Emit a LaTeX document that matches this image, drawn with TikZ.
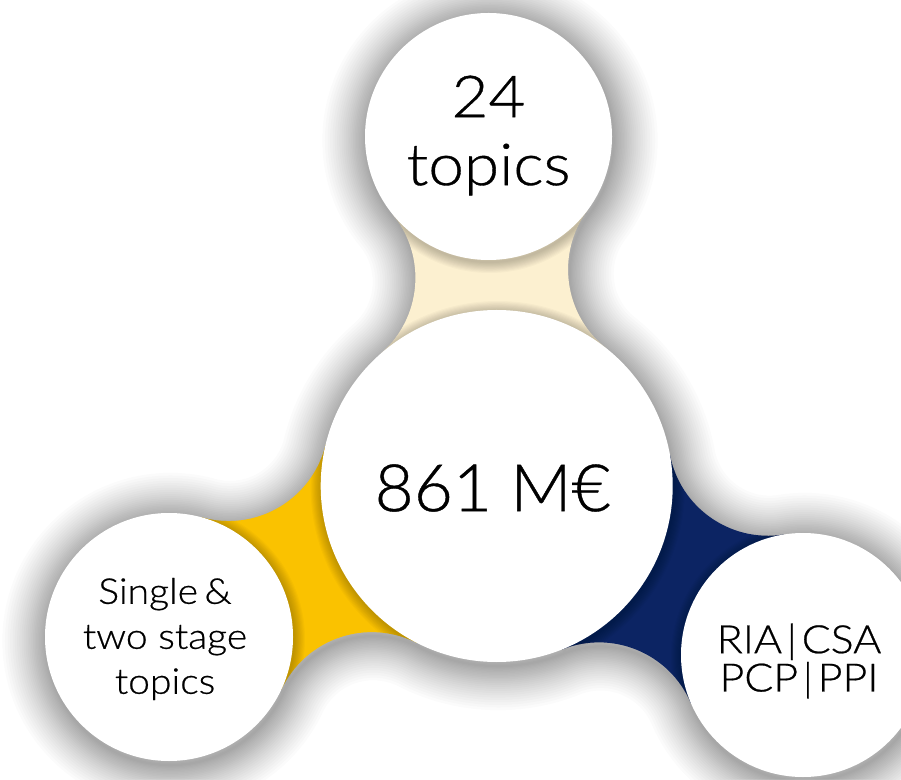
\documentclass[tikz,border=0pt]{standalone}
\usepackage{fontspec}
\setmainfont{Lato}[UprightFont=* Light, FakeStretch=1.1, FakeBold=0.6]
\newfontfamily\centerfont{Lato}[UprightFont=* Light, FakeStretch=1.03, FakeBold=0.6]
\definecolor{cream}{RGB}{252,240,208}
\definecolor{eyellow}{RGB}{250,194,0}
\definecolor{enavy}{RGB}{12,36,99}
% fillet connector between circle a and circle b
% #1 macro name, #2 ax, #3 ay, #4 ra, #5 bx, #6 by, #7 rb, #8 fillet radius
\newcommand\mkfillet[8]{%
 \pgfmathsetmacro\flDx{#5-(#2)}%
 \pgfmathsetmacro\flDy{#6-(#3)}%
 \pgfmathsetmacro\flD{sqrt(\flDx*\flDx+\flDy*\flDy)}%
 \pgfmathsetmacro\flUx{\flDx/\flD}%
 \pgfmathsetmacro\flUy{\flDy/\flD}%
 \pgfmathsetmacro\flT{(\flD*\flD-(#7+#8)*(#7+#8)+(#4+#8)*(#4+#8))/(2*\flD)}%
 \pgfmathsetmacro\flH{sqrt((#4+#8)*(#4+#8)-\flT*\flT)}%
 \pgfmathsetmacro\flPx{#2+\flT*\flUx-\flH*\flUy}%
 \pgfmathsetmacro\flPy{#3+\flT*\flUy+\flH*\flUx}%
 \pgfmathsetmacro\flQx{#2+\flT*\flUx+\flH*\flUy}%
 \pgfmathsetmacro\flQy{#3+\flT*\flUy-\flH*\flUx}%
 \pgfmathsetmacro\flaPA{atan2(#3-\flPy,#2-\flPx)}%
 \pgfmathsetmacro\flaPB{atan2(#6-\flPy,#5-\flPx)}%
 \pgfmathsetmacro\flaQA{atan2(#3-\flQy,#2-\flQx)}%
 \pgfmathsetmacro\flaQB{atan2(#6-\flQy,#5-\flQx)}%
 \pgfmathsetmacro\fldP{mod(\flaPB-\flaPA+540,360)-180}%
 \pgfmathsetmacro\fldQ{mod(\flaQA-\flaQB+540,360)-180}%
 \pgfmathsetmacro\flSx{\flPx+#8*cos(\flaPA)}%
 \pgfmathsetmacro\flSy{\flPy+#8*sin(\flaPA)}%
 \pgfmathsetmacro\flMx{\flQx+#8*cos(\flaQB)}%
 \pgfmathsetmacro\flMy{\flQy+#8*sin(\flaQB)}%
 \xdef#1{(\flSx,\flSy) arc[start angle=\flaPA, delta angle=\fldP, radius=#8] -- (\flMx,\flMy) arc[start angle=\flaQB, delta angle=\fldQ, radius=#8] -- cycle}%
}
\tikzset{
  bubble/.style={circle, fill=white, inner sep=0pt},
  txt/.style={align=center, text=black, inner sep=0pt},
  shadowring/.style={draw=black, line join=round},
}
\begin{document}
\begin{tikzpicture}[x=10pt,y=10pt]
\useasboundingbox (0,0) rectangle (90.1,77.9);
\fill[white] (0,0) rectangle (90.1,77.9);
% circle geometry
\def\Tx{48.85}\def\Ty{64.25}\def\Tr{12.35}
\def\Cx{49.67}\def\Cy{29.3}\def\Cr{17.6}
\def\Lx{16.9}\def\Ly{14.2}\def\Lr{12.4}
\def\Rx{80.3}\def\Ry{12.4}\def\Rr{12.2}
\mkfillet\pathTop{\Tx}{\Ty}{\Tr}{\Cx}{\Cy}{\Cr}{10}
\mkfillet\pathLeft{\Lx}{\Ly}{\Lr}{\Cx}{\Cy}{\Cr}{10}
\mkfillet\pathRight{\Rx}{\Ry}{\Rr}{\Cx}{\Cy}{\Cr}{10}
\def\circlesall{(\Tx,\Ty) circle[radius=\Tr] (\Cx,\Cy) circle[radius=\Cr] (\Lx,\Ly) circle[radius=\Lr] (\Rx,\Ry) circle[radius=\Rr]}
% soft shadow of the whole figure
\begin{scope}[shift={(0.15,-0.4)}]
\foreach \i in {1,...,24}{
  \draw[shadowring, line width={2*(1.0*\i+0.035*\i*\i)*1pt}, draw opacity=0.015] \circlesall \pathTop \pathLeft \pathRight;
}
\end{scope}
% connectors
\fill[cream] \pathTop;
\fill[eyellow] \pathLeft;
\fill[enavy] \pathRight;
% circle shadows on the connectors
\begin{scope}
\clip \pathTop \pathLeft \pathRight;
\begin{scope}[shift={(0.1,-0.2)}]
\foreach \i in {1,...,10}{
  \draw[shadowring, line width=\i*2.2pt, draw opacity=0.025] \circlesall;
}
\end{scope}
\end{scope}
% bubbles
\node[bubble, minimum size=247pt] (top) at (\Tx,\Ty) {};
\node[bubble, minimum size=352pt] (center) at (\Cx,\Cy) {};
\node[bubble, minimum size=248pt] (left) at (\Lx,\Ly) {};
\node[bubble, minimum size=244pt] (right) at (\Rx,\Ry) {};
% texts
\node[txt, font=\fontsize{58}{68}\selectfont, yshift=1pt] (toptext) at (top) {24\\topics};
\node[txt, font=\centerfont\fontsize{65.5}{78}\selectfont, yshift=-2pt, xshift=-4pt] (centertext) at (center) {861 M€};
\node[txt, font=\fontsize{35.5}{45}\selectfont, yshift=-2pt, xshift=-4pt] (lefttext) at (left) {Single\hspace{0.18em}\&\\two stage\\topics};
\node[txt, font=\fontsize{39}{38.3}\selectfont, yshift=-6pt, xshift=-4pt] (righttext) at (right) {RIA\hspace{0.12em}|\hspace{0.12em}CSA\\PCP\hspace{0.12em}|\hspace{0.12em}PPI};
\end{tikzpicture}
\end{document}
